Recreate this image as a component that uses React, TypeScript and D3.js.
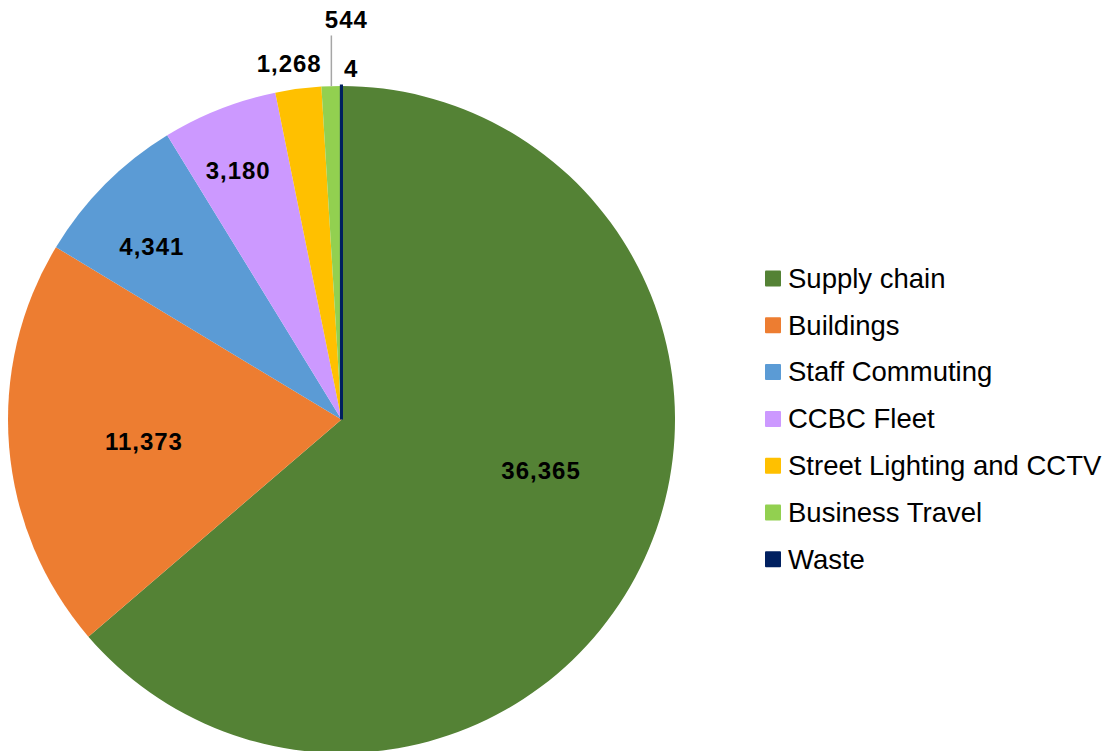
import React from "react";
import * as d3 from "d3";

const categories = [
  "Supply chain",
  "Buildings",
  "Staff Commuting",
  "CCBC Fleet",
  "Street Lighting and CCTV",
  "Business Travel",
  "Waste",
];
const values = [36365, 11373, 4341, 3180, 1268, 544, 4];
const colors = ["#548235", "#ED7D31", "#5B9BD5", "#CC99FF", "#FFC000", "#92D050", "#002060"];

// label placement: radius fraction, angle offset (deg), extra x offset, leader line
const labelLayout = [
  { rf: 0.618, da: -10.2, dx: 0, leader: false },
  { rf: 0.596, da: -1.5, dx: 0, leader: false },
  { rf: 0.77, da: -2.4, dx: 0, leader: false },
  { rf: 0.807, da: -1.1, dx: 0, leader: false },
  { rf: 1.08, da: -0.9, dx: 0, leader: false },
  { rf: 1.2, da: 0, dx: 17, leader: true },
  { rf: 1.054, da: 1.6, dx: 0, leader: false },
];

const W = 1111;
const H = 751;
const cx = 341.5;
const cy = 419.5;
const R = 333.5;

export default function App() {
  const pie = d3.pie<number>().sort(null).value((d) => d)(values);
  const arc = d3.arc<d3.PieArcDatum<number>>().innerRadius(0).outerRadius(R);
  const fmt = d3.format(",");
  const toRad = Math.PI / 180;

  return (
    <svg
      width={W}
      height={H}
      style={{ position: "absolute", left: 0, top: 0, display: "block" }}
      fontFamily="'Liberation Sans', Arial, sans-serif"
    >
      <rect width={W} height={H} fill="#fff" />
      <g transform={`translate(${cx},${cy})`}>
        {pie.map((p, i) => (
          <path
            key={categories[i]}
            d={arc(p) || ""}
            fill={colors[i]}
            stroke={i === pie.length - 1 ? colors[i] : "none"}
            strokeWidth={i === pie.length - 1 ? 3 : 0}
          />
        ))}
        {pie.map((p, i) => {
          const L = labelLayout[i];
          const mid = (p.startAngle + p.endAngle) / 2;
          const a = mid + L.da * toRad;
          const x = Math.sin(a) * R * L.rf + L.dx;
          const y = -Math.cos(a) * R * L.rf;
          const lx = Math.sin(mid) * R;
          const ly = -Math.cos(mid) * R;
          return (
            <g key={"l" + i}>
              {L.leader && (
                <line x1={lx} y1={ly} x2={lx} y2={y + 16} stroke="#A6A6A6" strokeWidth={1.5} />
              )}
              <text
                x={x}
                y={y}
                dy="0.35em"
                textAnchor="middle"
                fontSize={24}
                fontWeight="bold"
                letterSpacing={1}
                fill="#000"
              >
                {fmt(values[i])}
              </text>
            </g>
          );
        })}
      </g>
      <g transform="translate(765,278.5)">
        {categories.map((c, i) => (
          <g key={c} transform={`translate(0,${i * 46.8})`}>
            <rect x={0} y={-8} width={16} height={16} fill={colors[i]} rx={1} />
            <text x={23} y={0} dy="0.34em" fontSize={27.5} fill="#000">
              {c}
            </text>
          </g>
        ))}
      </g>
    </svg>
  );
}
